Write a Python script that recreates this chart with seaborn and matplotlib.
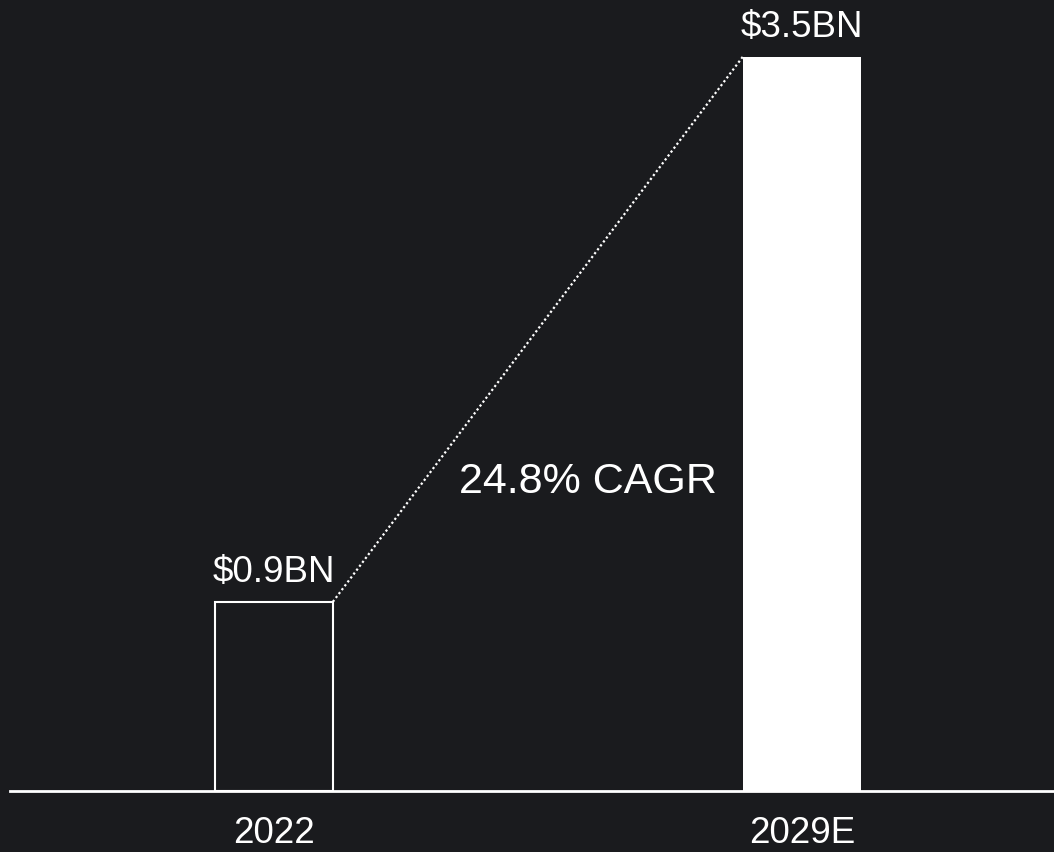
import matplotlib
matplotlib.use("Agg")
import matplotlib.pyplot as plt
import seaborn as sns
import pandas as pd

years = ["2022", "2029E"]
values = [0.9, 3.5]
value_labels = ["$0.9BN", "$3.5BN"]
cagr_label = "24.8% CAGR"

BG = "#1a1b1e"
FG = "#ffffff"

sns.set_theme(style="white")
plt.rcParams["font.family"] = ["Liberation Sans", "DejaVu Sans"]

fig = plt.figure(figsize=(10.54, 8.52), dpi=100, facecolor=BG)
ax = fig.add_axes([10/1054, 61.5/852, 1044/1054, 790.5/852])
ax.set_facecolor(BG)

df = pd.DataFrame({"year": years, "value": values})
sns.barplot(data=df, x="year", y="value", ax=ax, width=0.2233, color=FG,
            saturation=1)

patches = ax.patches
patches[0].set_facecolor(BG)
patches[0].set_edgecolor(FG)
patches[0].set_linewidth(1.5)
patches[1].set_facecolor(FG)
patches[1].set_edgecolor(FG)
patches[1].set_linewidth(0)

ax.set_xlim(-0.5, 1.4777)
ax.set_ylim(0, 3.77)

for p, lab in zip(patches, value_labels):
    cx = p.get_x() + p.get_width() / 2
    ax.annotate(lab, (cx, p.get_height()), xytext=(0, 14), textcoords="offset points",
                ha="center", va="baseline", color=FG, fontsize=26.5)

p0, p1 = patches[0], patches[1]
ax.plot([p0.get_x() + p0.get_width(), p1.get_x()], [p0.get_height(), p1.get_height()],
        linestyle=(0, (1, 1.2)), color=FG, lw=1.6)

ax.text(0.35, 1.47, cagr_label, ha="left", va="center", color=FG, fontsize=31)

for s in ["top", "right", "left"]:
    ax.spines[s].set_visible(False)
ax.spines["bottom"].set_color(FG)
ax.spines["bottom"].set_linewidth(2)
ax.set_yticks([])
ax.set_xlabel("")
ax.set_ylabel("")
ax.tick_params(axis="x", length=0, pad=18.5, labelsize=26.5, labelcolor=FG)

fig.savefig("out.png", dpi=100, facecolor=BG)
